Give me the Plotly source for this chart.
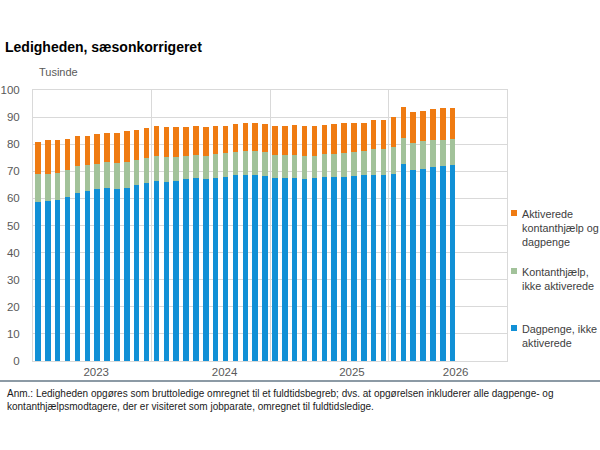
import plotly.graph_objects as go

# Ledighed, sæsonkorrigeret (tusinde personer), månedlige observationer
dagpenge = [58.5, 59.1, 59.4, 60.4, 61.9, 62.6, 63.4, 63.9, 63.5, 64.0, 65.0, 65.7,
            66.5, 66.2, 66.6, 67.1, 67.7, 67.3, 67.6, 68.0, 68.5, 68.7, 68.7, 68.3,
            67.5, 67.4, 67.5, 67.0, 67.4, 67.8, 67.9, 68.0, 68.4, 68.6, 68.8, 68.8,
            69.1, 72.6, 70.6, 71.0, 71.5, 71.9, 72.2]
kontanthjaelp = [10.4, 10.0, 9.8, 10.0, 10.0, 9.6, 9.4, 9.5, 9.6, 9.4, 9.2, 9.3,
                 9.1, 8.9, 8.7, 8.6, 8.4, 8.5, 8.8, 8.6, 8.8, 8.8, 8.8, 8.7,
                 8.6, 8.6, 8.7, 8.6, 8.4, 8.5, 8.6, 8.9, 8.9, 8.9, 9.3, 9.6,
                 9.7, 9.6, 10.0, 10.0, 10.0, 9.8, 9.7]
aktiverede = [12.0, 12.3, 12.3, 11.7, 11.0, 10.9, 10.8, 10.7, 11.2, 11.4, 11.1, 11.0,
              11.2, 11.2, 11.1, 10.7, 10.8, 10.7, 10.4, 10.3, 10.2, 10.3, 10.3, 10.6,
              10.8, 10.8, 10.8, 11.1, 10.9, 10.9, 11.0, 10.8, 10.5, 10.5, 10.7, 10.7,
              11.2, 11.4, 11.1, 11.3, 11.5, 11.5, 11.4]

series_names = ["Dagpenge, ikke<br>aktiverede",
                "Kontanthjælp,<br>ikke aktiverede",
                "Aktiverede<br>kontanthjælp og<br>dagpenge"]
series_colors = ["#1190d6", "#a2c29a", "#ef7b12"]

year_labels = ["2023", "2024", "2025", "2026"]
year_label_pos = [5.9, 18.9, 31.8, 42.3]
year_breaks = [11.5, 23.5, 35.5]

x = list(range(len(dagpenge)))

fig = go.Figure()
for vals, name, col in zip([dagpenge, kontanthjaelp, aktiverede], series_names, series_colors):
    fig.add_trace(go.Bar(x=x, y=vals, name=name, marker_color=col,
                         marker_line_width=0, width=0.55, showlegend=False))

grid = "#d9d9d9"
fig.update_layout(
    width=600, height=450,
    barmode="stack",
    plot_bgcolor="white", paper_bgcolor="white",
    margin=dict(l=33, r=93, t=90, b=89),
    font=dict(family="Liberation Sans, Arial, sans-serif", size=11, color="#595959"),
    title=dict(text="<b>Ledigheden, sæsonkorrigeret</b>", x=5 / 600, xanchor="left",
               y=1 - 47 / 450, yanchor="middle", yref="container",
               font=dict(size=14, color="#000000")),
    xaxis=dict(range=[-0.5, 47.5], tickvals=year_label_pos, ticktext=year_labels,
               showgrid=False, zeroline=False, ticks="", automargin=False,
               showline=True, mirror=True, linecolor=grid, linewidth=1,
               minor=dict(tickvals=year_breaks, showgrid=True, gridcolor=grid,
                          gridwidth=1, ticks=""),
               tickfont=dict(size=11.5, color="#595959")),
    yaxis=dict(range=[0, 100], dtick=10, showgrid=True, gridcolor=grid,
               zeroline=False, ticks="", showline=True, mirror=True,
               linecolor=grid, ticklabelstandoff=10, automargin=False,
               tickfont=dict(size=11.5, color="#595959")),
)

# "Tusinde" over y-aksen
fig.add_annotation(text="Tusinde", xref="paper", yref="paper",
                   x=4 / 474, y=(361 - 72) / 271, xanchor="left", yanchor="middle",
                   showarrow=False, font=dict(size=11, color="#595959"))

# legende til højre
leg_top = [213, 271, 328]
for name, col, yc in zip(series_names[::-1], series_colors[::-1], leg_top):
    fig.add_shape(type="rect", xref="paper", yref="paper",
                  x0=(511 - 33) / 474, x1=(517 - 33) / 474,
                  y0=(361 - yc - 3) / 271, y1=(361 - yc + 3) / 271,
                  fillcolor=col, line_width=0)
    fig.add_annotation(text=name, xref="paper", yref="paper",
                       x=(520 - 33) / 474, y=(361 - yc + 7) / 271,
                       xanchor="left", yanchor="top", align="left",
                       showarrow=False, font=dict(size=10.8, color="#404040"))

# skillelinje og note
fig.add_shape(type="line", xref="paper", yref="paper",
              x0=-33 / 474, x1=567 / 474, y0=-20 / 271, y1=-20 / 271,
              line=dict(color="#8c9aa5", width=2))
fig.add_annotation(
    text="Anm.: Ledigheden opgøres som bruttoledige omregnet til et fuldtidsbegreb; dvs. at opgørelsen inkluderer alle dagpenge- og<br>"
         "kontanthjælpsmodtagere, der er visiteret som jobparate, omregnet til fuldtidsledige.",
    xref="paper", yref="paper", x=-28 / 474, y=-25 / 271,
    xanchor="left", yanchor="top", align="left", showarrow=False,
    font=dict(size=10, color="#1a1a1a"))

# siden har 8px standardmargen; fjern den så figuren fylder vinduet
fig.write_html("out.html", config={"displayModeBar": False},
               post_script="document.body.style.margin='0';")
